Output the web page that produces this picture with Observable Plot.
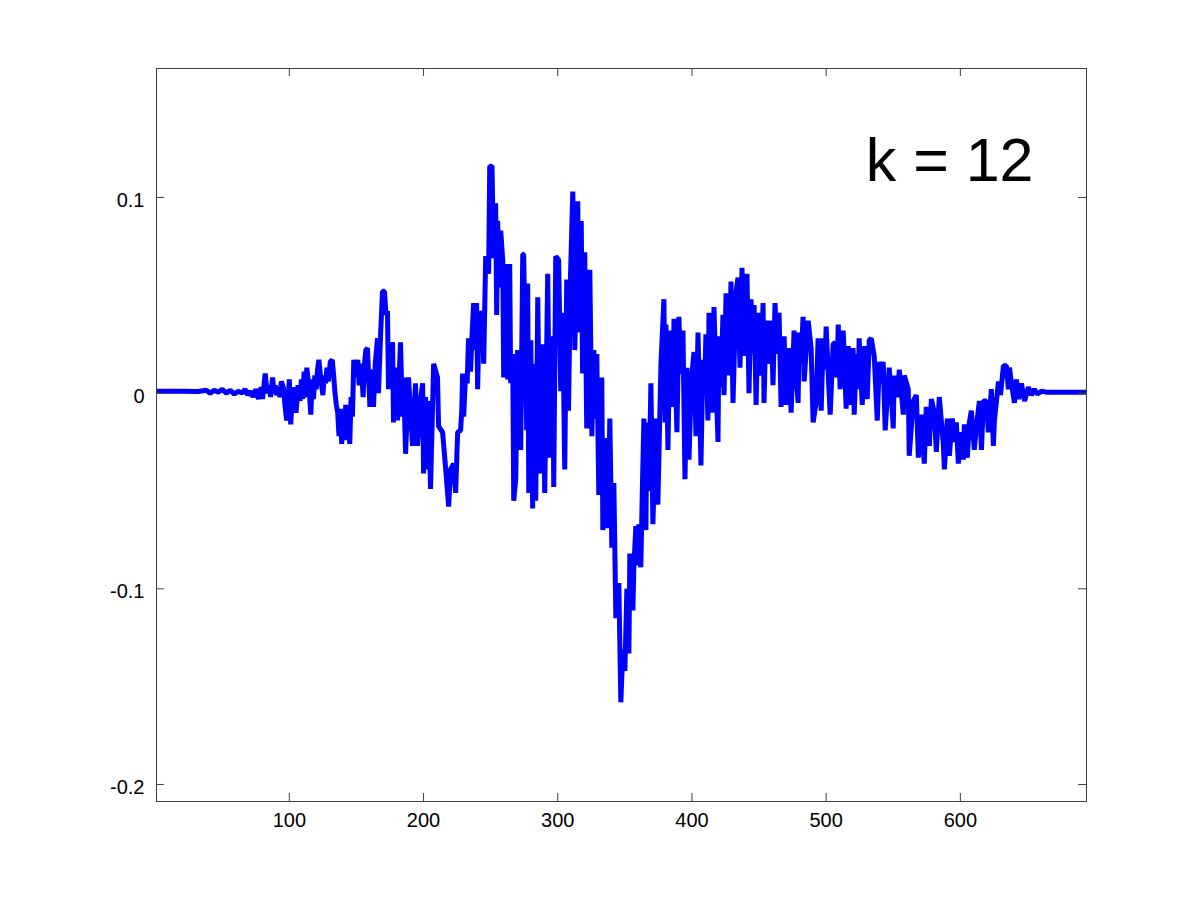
<!DOCTYPE html>
<html>
<head>
<meta charset="utf-8">
<script src="https://cdn.jsdelivr.net/npm/d3@7"></script>
<script src="https://cdn.jsdelivr.net/npm/@observablehq/plot@0.6"></script>
<style>
  html, body { margin: 0; padding: 0; background: #ffffff; }
  #chart svg { display: block; }
</style>
</head>
<body>
<div id="chart"></div>
<script>
// Sample positions (x)
const sampleIdx = [
  1, 20, 32, 38, 41, 44, 47, 50, 53, 56, 59, 62, 65, 67, 69, 71, 73, 75, 77, 79,
  80, 82, 83.5, 85, 86, 87.5, 88.5, 89.5, 90.5, 92, 93, 94, 95.5, 97, 98, 99,
  100, 101, 102, 103.5, 105, 106.5, 108, 109, 110, 111, 112, 113, 114.5, 116, 117, 118,
  119, 120, 121, 122, 123.5, 125, 126, 127, 128, 129, 130.5, 132, 133, 134, 135, 136,
  137, 138, 139, 140, 141, 142, 143, 144, 145, 146, 147, 148, 149.5, 151, 152, 153.5,
  155, 156, 157, 158.2, 159, 160, 161.5, 162.7, 164, 165.7, 166.4, 168, 169.4, 170.9,
  172, 173.1, 173.9, 175.5, 176.9, 177.6, 179.1, 180.6, 182.8, 184.3, 185.1, 186.6,
  188.8, 190.3, 191.8, 194, 195.5, 197.5, 199.3, 200, 201.5, 203, 203.7, 205.2, 207.5,
  210.4, 211.2, 214.2, 216.4, 218.7, 220.1, 222.4, 223.9, 225.4, 227.6, 228.5, 229.1,
  229.9, 231.3, 232.5, 233.5, 235, 236, 237.3, 238.8, 239.5, 240.3, 241.5, 243, 244,
  244.8, 246.3, 248.5, 249.3, 251, 252.2, 253.7, 254.5, 255.2, 256.7, 257.5, 259, 259.7,
  261.2, 262.7, 264.2, 264.9, 266.4, 267.2, 268.7, 270.1, 270.9, 272.4, 273.9, 274.6,
  276.9, 277.6, 278.4, 279.9, 281.3, 282.1, 283.6, 285.1, 286.6, 288.8, 290.3, 292.5,
  294, 296.3, 297, 298.5, 300.7, 302.2, 303.7, 305.2, 306.7, 308, 309.5, 311.2, 312.7,
  314.9, 315.7, 317.5, 318.5, 320.1, 321.6, 323.9, 325.4, 326.9, 327.6, 329.1, 330.6,
  332.8, 333.6, 335.8, 337.3, 338.8, 340.3, 341.8, 343.3, 345.5, 347, 348.5, 350, 351.5,
  353, 353.7, 356, 356.7, 358.2, 359.5, 360.4, 361.9, 363, 364.2, 365.7, 366.4, 368,
  369.4, 370.9, 373.1, 374.6, 376.9, 379.1, 380, 380.6, 382.1, 383.6, 385.8, 386.6,
  388.8, 390.3, 391.5, 393.3, 394.8, 396.3, 397.8, 399.5, 400.7, 401.5, 403, 404.5,
  406.7, 408.2, 409.5, 410.4, 411.9, 412.7, 415.7, 416.4, 418, 419.4, 420.1, 421.6,
  423.1, 423.9, 425.4, 427.6, 429.1, 430.6, 432.8, 434.3, 435.8, 437.3, 438.8, 441,
  442.5, 444, 445, 446.3, 447.8, 449.3, 451.5, 453, 453.7, 455.2, 456.7, 459, 460.4,
  461.9, 463.4, 464.9, 466.4, 468.7, 470.1, 472.4, 473.9, 476.1, 477.6, 479.1, 479.9,
  481.3, 482.8, 483.6, 486.6, 488.8, 490.3, 492.5, 494, 496.3, 497.8, 499, 500, 502.2,
  503, 505.2, 506.7, 508, 509, 510.4, 512.7, 514.9, 516.4, 517.9, 520.1, 520.9, 522.4,
  523.9, 524.6, 526.9, 528.4, 530.6, 532.1, 533.6, 535.8, 538.1, 539.6, 541, 542.5,
  544, 547, 548.5, 550, 550.7, 553, 554.5, 557.5, 558.2, 561.2, 561.9, 564.9, 567.2,
  568.7, 570.9, 573.1, 574.6, 576.9, 578.4, 580.6, 582.1, 584.3, 587.3, 588.1, 590.3,
  591.8, 594, 595.5, 597, 598.5, 600.7, 602.2, 603, 605.2, 606.7, 608.2, 610.4, 611.9,
  614.2, 615.7, 617.2, 619.4, 620.9, 623.1, 624.6, 625.4, 628.4, 629.9, 632.1, 634.3,
  635.8, 636.6, 638.1, 640.3, 641.8, 643.3, 645.5, 647.8, 650.7, 653, 655.2, 657.5,
  660.4, 664, 694
];

// Amplitudes (same order as sampleIdx)
const amplitude = [
  0.001, 0.001, 0.0008, 0.0015, 0.0, 0.0015, 0.0005, 0.002, 0.0, 0.0015, -0.0005, 0.001, 0.0, 0.002, -0.001, 0.001, -0.002, 0.002, -0.003, 0.003,
  -0.003, 0.010, 0.000, 0.004, -0.002, 0.008, 0.000, 0.004, -0.001, 0.003, -0.002, 0.006, 0.003, -0.008, -0.014, -0.004,
  0.007, -0.016, -0.004, 0.003, -0.010, 0.004, -0.004, 0.007, -0.003, 0.011, -0.002, 0.013, 0.004, -0.011, 0.007, -0.003,
  0.009, 0.002, 0.012, 0.017, 0.007, -0.001, 0.009, 0.005, 0.013, 0.006, 0.016, 0.017, 0.009, 0.000, -0.006, -0.010,
  -0.022, -0.008, -0.026, -0.012, -0.024, -0.006, -0.020, -0.008, -0.026, -0.002, -0.012, 0.017, 0.008, 0.017, 0.004, 0.015,
  -0.002, 0.015, 0.022, 0.023, 0.010, -0.007, 0.012, -0.007, 0.015, 0.028, 0.000, 0.030, 0.052, 0.052,
  0.040, 0.042, 0.002, 0.020, 0.026, -0.015, 0.013, -0.014, 0.026, -0.012, 0.008, -0.031,
  0.008, -0.010, -0.027, 0.005, -0.027, -0.005, 0.005, -0.041, -0.002, -0.039, -0.004, -0.049, 0.015,
  0.008, -0.017, -0.020, -0.038, -0.058, -0.039, -0.036, -0.051, -0.020, -0.019, -0.008, 0.010,
  -0.012, 0.010, 0.005, 0.028, 0.011, 0.028, 0.046, 0.022, 0.046, 0.002, 0.042, 0.030, 0.042,
  0.015, 0.070, 0.061, 0.116, 0.116, 0.069, 0.097, 0.040, 0.088, 0.054, 0.083, 0.068, 0.008,
  0.066, 0.007, 0.066, 0.005, 0.020, -0.055, -0.044, 0.022, 0.019, -0.029, 0.071, 0.071,
  -0.019, 0.056, -0.051, 0.027, -0.059, 0.015, -0.055, 0.049, -0.041, 0.025, -0.051, 0.061,
  -0.033, 0.029, -0.048, 0.070, 0.068, 0.001, 0.041, -0.039, 0.058, -0.009, 0.060, 0.103, 0.022,
  0.098, 0.031, 0.088, 0.010, 0.072, -0.018, 0.063, -0.022, 0.022, -0.013, 0.020, -0.052,
  0.008, -0.070, -0.023, -0.069, -0.013, -0.079, -0.046, -0.115, -0.097, -0.158, -0.131, -0.142, -0.100,
  -0.133, -0.082, -0.111, -0.089, -0.068, -0.088, -0.067, -0.089, -0.050, -0.013, -0.070, -0.015, -0.050,
  0.005, -0.067, -0.013, -0.057, 0.015, 0.048, -0.015, 0.035, -0.029, 0.032, -0.007, 0.038,
  -0.020, 0.039, 0.010, 0.032, -0.044, 0.013, -0.034, 0.005, 0.015, 0.021, -0.022, 0.031,
  -0.037, 0.017, 0.005, 0.030, -0.014, 0.041, -0.010, 0.044, 0.005, -0.025, 0.029, 0.003,
  0.040, -0.001, 0.051, 0.009, 0.057, -0.005, 0.051, 0.059, 0.013, 0.064, 0.019, 0.061,
  0.000, 0.048, 0.020, 0.045, -0.006, 0.041, 0.009, 0.046, -0.005, 0.037, 0.015, 0.037, 0.004,
  0.046, 0.020, 0.041, -0.007, 0.029, -0.006, 0.023, -0.010, 0.032, 0.010, -0.005, 0.031,
  0.015, 0.039, 0.006, 0.037, 0.023, -0.015, -0.005, 0.028, -0.009, 0.028, 0.012, 0.034, 0.000,
  -0.011, 0.025, 0.026, 0.008, 0.035, 0.002, 0.032, -0.008, 0.024, -0.006, 0.023, -0.011, 0.020,
  0.002, 0.028, -0.006, 0.024, -0.003, 0.027, 0.028, 0.019, -0.014, 0.016, 0.005, 0.016,
  -0.019, 0.013, 0.000, -0.018, 0.009, -0.002, 0.012, -0.011, 0.009, 0.002, -0.032, -0.004, -0.001,
  -0.033, -0.011, -0.036, -0.007, -0.027, -0.003, -0.010, -0.030, -0.002, -0.026, -0.039, -0.013,
  -0.032, -0.013, -0.025, -0.015, -0.036, -0.020, -0.034, -0.016, -0.033, -0.015, -0.009, -0.029, -0.017,
  -0.004, -0.029, -0.004, -0.004, -0.020, 0.002, -0.027, -0.014, 0.006, -0.001, 0.014, 0.014,
  0.002, 0.013, 0.005, -0.005, 0.007, -0.003, 0.005, -0.004, 0.003, -0.001, 0.002, -0.0005,
  0.001, 0.0005, 0.0005
];

const xTicks = [100, 200, 300, 400, 500, 600];
const yTicks = [-0.2, -0.1, 0, 0.1];
const xDomain = [1, 694];
const yDomain = [-0.2087, 0.1659];
const annotation = "k = 12";

const data = sampleIdx.map((x, i) => ({x, y: amplitude[i]}));

const W = 1200, H = 900;
const mL = 156, mR = 114, mT = 68, mB = 99;
const innerW = W - mL - mR, innerH = H - mT - mB;
const tickLen = 8;
const axisColor = "#404040";

const chart = Plot.plot({
  width: W,
  height: H,
  marginLeft: mL,
  marginRight: mR,
  marginTop: mT,
  marginBottom: mB,
  style: {fontFamily: "'Liberation Sans', Arial, Helvetica, sans-serif", background: "#ffffff", color: "#000000"},
  x: {domain: xDomain, axis: null},
  y: {domain: yDomain, axis: null},
  marks: [
    Plot.line(data, {x: "x", y: "y", stroke: "#0000ff", strokeWidth: 5, strokeLinejoin: "bevel", strokeLinecap: "butt", clip: true}),
    Plot.frame({stroke: axisColor, strokeWidth: 1}),
    Plot.tickX(xTicks, {x: d => d, insetTop: innerH - tickLen, stroke: axisColor}),
    Plot.tickX(xTicks, {x: d => d, insetBottom: innerH - tickLen, stroke: axisColor}),
    Plot.tickY(yTicks, {y: d => d, insetRight: innerW - tickLen, stroke: axisColor}),
    Plot.tickY(yTicks, {y: d => d, insetLeft: innerW - tickLen, stroke: axisColor}),
    Plot.text(xTicks, {x: d => d, frameAnchor: "bottom", dy: 25, fontSize: 20, text: d => String(d), fill: "#000000"}),
    Plot.text(yTicks, {y: d => d, frameAnchor: "left", dx: -12, dy: 3, textAnchor: "end", fontSize: 20, text: d => String(d), fill: "#000000"}),
    Plot.text([annotation], {x: () => 592, y: () => 0.1185, text: d => d, fontSize: 61, textAnchor: "middle", fill: "#000000"})
  ]
});
document.getElementById("chart").appendChild(chart);
</script>
</body>
</html>
